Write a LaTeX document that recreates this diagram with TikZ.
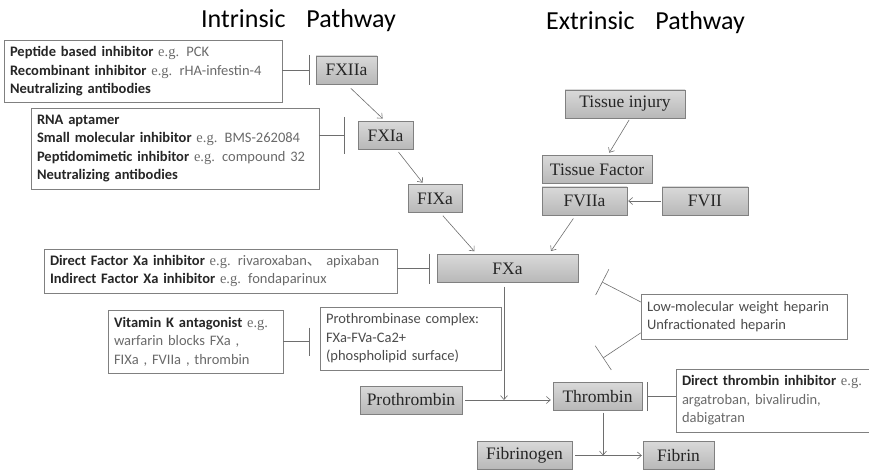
\documentclass[tikz,border=0pt]{standalone}
\usepackage{fontspec}
\setmainfont{Carlito}
\newfontfamily\boxfont{Liberation Serif}
\newfontfamily\cjk{Noto Sans CJK SC}
\usetikzlibrary{arrows.meta}
\definecolor{linegray}{HTML}{6E6E6E}
\definecolor{boxgray}{HTML}{C8C8C8}
\definecolor{txtgray}{HTML}{6A6A6A}
\newcommand{\eg}{{\boxfont e.g.}}
\newcommand{\drug}[1]{{\bfseries\color{black!85}#1}}

\begin{document}
\begin{tikzpicture}[x=1pt, y=-1pt,
    factor/.style={draw=black!50, top color=black!15, bottom color=black!28,
        font=\boxfont\fontsize{17.5}{19}\selectfont, text=black!85,
        minimum height=28pt, inner sep=0pt},
    note/.style={draw=black!50, fill=white, align=left, inner sep=6pt,
        font=\fontsize{14.5}{18.6}\selectfont, text=txtgray},
    title/.style={font=\fontsize{26}{30}\selectfont, text=black},
    arr/.style={draw=linegray, semithick, -{Straight Barb[length=4pt,width=7pt]}},
    inh/.style={draw=linegray, semithick, -{Bar[width=#1]}}, inh/.default=30pt]
    \useasboundingbox (0,0) rectangle (869,470);

    \node[title] (intr) at (298.5,21) {Intrinsic\hspace{0.8em}Pathway};
    \node[title] (extr) at (645.5,23) {Extrinsic\hspace{0.8em}Pathway};

    \foreach \nm/\x/\y/\w/\lbl in {fxiia/346.5/70/61/FXIIa, fxia/385.5/135.5/55/FXIa,
        fixa/435/198.5/54/FIXa, fxa/507.5/268.5/141/FXa, tinj/625/104/120/Tissue injury,
        tf/597/169.5/110/Tissue Factor, fviia/584.5/201/85/FVIIa, fvii/705/201/86/FVII,
        pro/411/400/102/Prothrombin, thr/597.5/396.5/89/Thrombin,
        fbg/524.5/455.5/95/Fibrinogen, fbn/678.5/455.5/71/Fibrin}
        \node[factor, minimum width=\w pt] (\nm) at (\x,\y) {\lbl};

    \node[note, text width=266pt, minimum height=61pt] (pep) at (143,71.5)
        {\drug{Peptide based inhibitor} \eg{} PCK\\
         \drug{Recombinant inhibitor} \eg{} rHA-infestin-4\\
         \drug{Neutralizing antibodies}};
    \node[note, text width=276pt, minimum height=81pt] (rna) at (175,148.5)
        {\drug{RNA aptamer}\\
         \drug{Small molecular inhibitor} \eg{} BMS-262084\\
         \drug{Peptidomimetic inhibitor} \eg{} compound 32\\
         \drug{Neutralizing antibodies}};
    \node[note, text width=341pt, minimum height=44pt] (dxa) at (220.5,271)
        {\drug{Direct Factor Xa inhibitor} \eg{} rivaroxaban{\cjk 、} apixaban\\
         \drug{Indirect Factor Xa inhibitor} \eg{} fondaparinux};
    \node[note, text width=163pt, minimum height=63pt] (vitk) at (195.5,341.5)
        {\drug{Vitamin K antagonist} \eg\\
         warfarin blocks FXa ,\\
         FIXa , FVIIa , thrombin};
    \node[note, text width=169pt, minimum height=63pt, text=black!70] (ptc) at (410.5,338.5)
        {Prothrombinase complex:\\
         FXa-FVa-Ca2+\\
         (phospholipid surface)};
    \node[note, text width=194pt, minimum height=45pt, text=black!70] (hep) at (744,316.5)
        {Low-molecular weight heparin\\
         Unfractionated heparin};
    \node[note, text width=198pt, minimum height=63pt] (dti) at (781,400.5)
        {\drug{Direct thrombin inhibitor} \eg\\
         argatroban, bivalirudin,\\
         dabigatran};

    \draw[inh, shorten >=6pt] (pep.east |- fxiia.west) -- (fxiia.west);
    \draw[inh=37pt, shorten >=13pt] (rna.east |- fxia.west) -- (fxia.west);
    \draw[inh, shorten >=7pt] (dxa.east |- fxa.west) -- (fxa.west);
    \draw[inh=28pt, shorten >=10pt] (vitk.east) -- (vitk.east -| ptc.west);
    \draw[inh=29pt, shorten >=5pt] (dti.west |- thr.east) -- (thr.east);
    \coordinate (hbar1) at (602,282);
    \coordinate (hbar2) at (603,358);
    \draw[inh=29pt] (hep.172) -- (hbar1);
    \draw[inh=29pt] (hep.189) -- (hbar2);

    \draw[arr, shorten <=6pt, shorten >=4pt] (fxiia.south) -- (fxia.north);
    \draw[arr, shorten <=3pt, shorten >=2pt] (fxia) -- (fixa);
    \draw[arr, shorten <=4pt, shorten >=4pt] (fixa.-70) -- (fxa.155);
    \draw[arr, shorten <=4pt, shorten >=4pt] (fviia.-122) -- (fxa.19);
    \draw[arr, shorten <=2pt, shorten >=3pt] (tinj.-70) -- (tf.53);
    \draw[arr, shorten <=1pt, shorten >=1pt] (fvii) -- (fviia);
    \coordinate (pj) at (504,400);
    \draw[arr, shorten <=3pt, shorten >=2pt] (pro.east) -- (pro.east -| thr.west);
    \draw[arr, shorten <=4pt] (fxa.south -| pj) -- (pj);
    \coordinate (fj) at (603,455.5);
    \draw[arr, shorten <=2pt] (thr.south -| fj) -- (fj);
    \draw[arr, shorten <=3pt, shorten >=1pt] (fbg) -- (fbn);
\end{tikzpicture}
\end{document}
